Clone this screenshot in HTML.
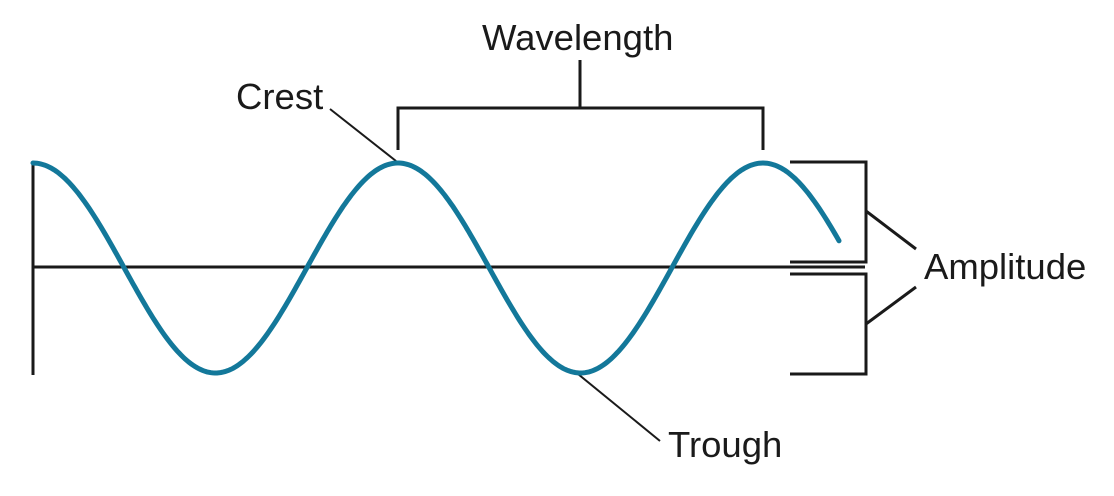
<!DOCTYPE html>
<html><head><meta charset="utf-8"><style>
html,body{margin:0;padding:0;background:#fff;}
svg{display:block}
text{font-family:"Liberation Sans",sans-serif;font-size:36.5px;fill:#1a1a1a}
</style></head><body>
<svg width="1114" height="496" viewBox="0 0 1114 496" xmlns="http://www.w3.org/2000/svg">
<g stroke="#1a1a1a" stroke-width="3" fill="none">
<line x1="33" y1="162" x2="33" y2="375"/>
<line x1="33" y1="267" x2="865" y2="267"/>
<polyline points="790,162 866,162 866,262 790,262"/>
<polyline points="790,274 866,274 866,374 790,374"/>
<line x1="866" y1="211" x2="916" y2="249"/>
<line x1="866" y1="324" x2="916" y2="287"/>
<polyline points="398,150 398,108 763,108 763,150"/>
<line x1="580" y1="108" x2="580" y2="60"/>
<line x1="330" y1="109" x2="396" y2="161" stroke-width="2"/>
<line x1="578" y1="374" x2="660" y2="441" stroke-width="2"/>
</g>
<polyline id="w" fill="none" stroke="#13789a" stroke-width="5" stroke-linecap="round" points=""/>
<text x="482" y="50">Wavelength</text>
<text x="236" y="109">Crest</text>
<text x="924" y="279">Amplitude</text>
<text x="668" y="457">Trough</text>
</svg>
<script>
var p=[];for(var x=33;x<=840;x+=2){p.push(x+","+(268-105*Math.cos(2*Math.PI*(x-33)/365)).toFixed(1));}
document.getElementById("w").setAttribute("points",p.join(" "));
</script>
</body></html>
